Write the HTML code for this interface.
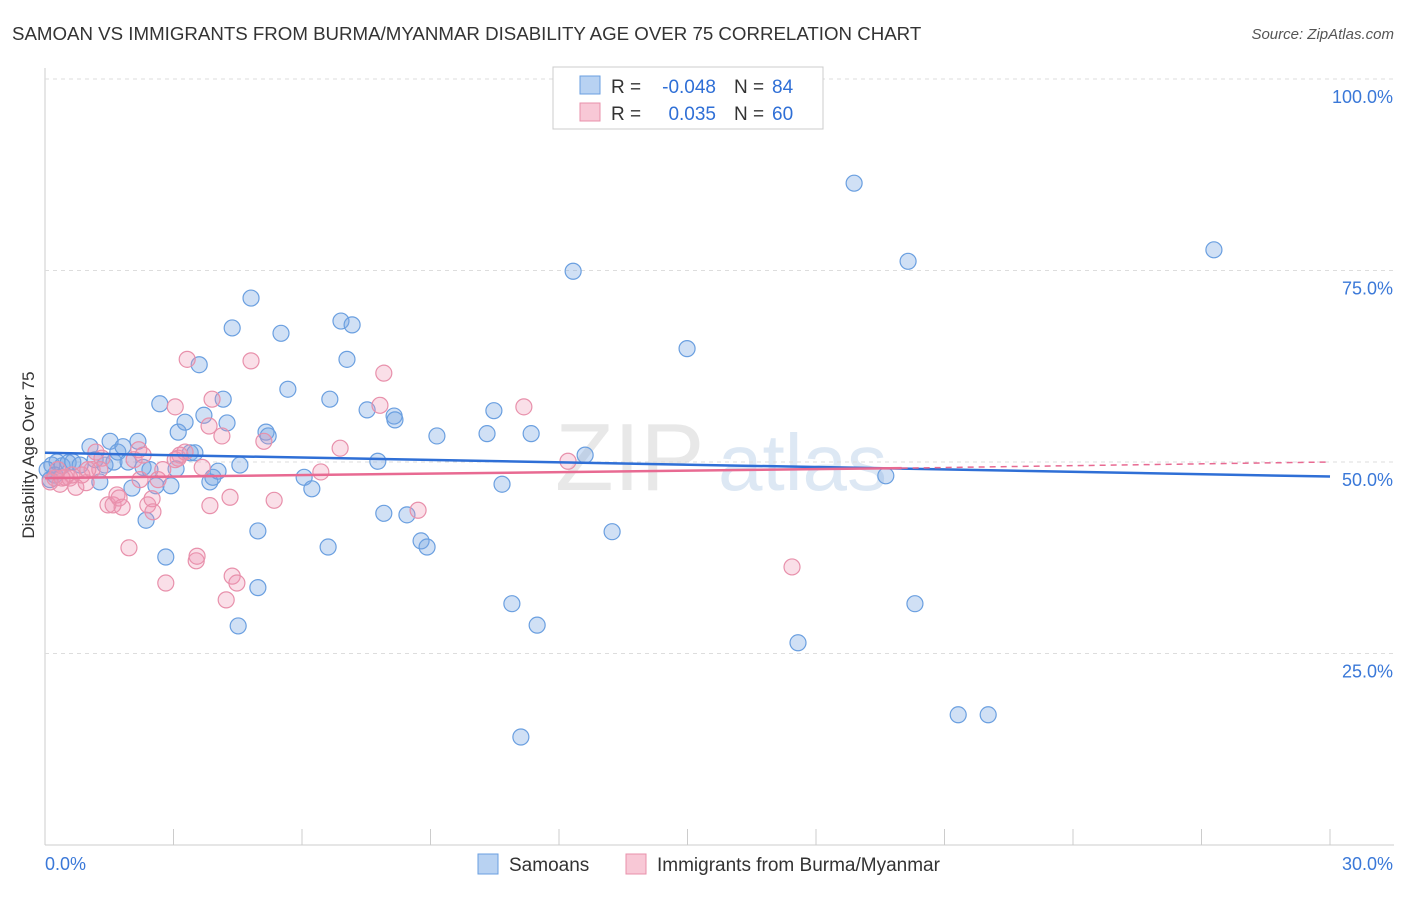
<!DOCTYPE html>
<html><head><meta charset="utf-8"><style>
body{margin:0;background:#fff;font-family:"Liberation Sans",sans-serif}
svg text{font-family:"Liberation Sans",sans-serif}
</style></head><body>
<svg id="chart" width="1406" height="892">
<text x="12" y="40" font-size="18.7" fill="#333">SAMOAN VS IMMIGRANTS FROM BURMA/MYANMAR DISABILITY AGE OVER 75 CORRELATION CHART</text>
<text x="1394" y="39" font-size="15" fill="#555" font-style="italic" text-anchor="end">Source: ZipAtlas.com</text>
<text x="555" y="490" font-size="96" fill="#e8e8e8" font-family="Liberation Serif">ZIP</text>
<text x="718" y="490" font-size="80" fill="#dde8f4">atlas</text>
<text x="34" y="455" font-size="17" fill="#333" text-anchor="middle" transform="rotate(-90 34 455)">Disability Age Over 75</text>
<g id="grid"></g><g id="marks"></g>
<g>
<rect x="553" y="67" width="270" height="62" fill="#fff" stroke="#ccc"/>
<rect x="580" y="76" width="20" height="18" fill="#b8d2f2" stroke="#6a9fe0"/>
<rect x="580" y="103" width="20" height="18" fill="#f8c8d6" stroke="#e890ab"/>
<text x="611" y="93" font-size="19" fill="#333">R =</text>
<text x="716" y="93" font-size="19" fill="#2f6fd6" text-anchor="end">-0.048</text>
<text x="734" y="93" font-size="19" fill="#333">N =</text>
<text x="772" y="93" font-size="19" fill="#2f6fd6">84</text>
<text x="611" y="120" font-size="19" fill="#333">R =</text>
<text x="716" y="120" font-size="19" fill="#2f6fd6" text-anchor="end">0.035</text>
<text x="734" y="120" font-size="19" fill="#333">N =</text>
<text x="772" y="120" font-size="19" fill="#2f6fd6">60</text>
</g>
<g>
<rect x="478" y="854" width="20" height="20" fill="#b8d2f2" stroke="#6a9fe0"/>
<text x="509" y="871" font-size="19" fill="#333">Samoans</text>
<rect x="626" y="854" width="20" height="20" fill="#f8c8d6" stroke="#e890ab"/>
<text x="657" y="871" font-size="19" fill="#333">Immigrants from Burma/Myanmar</text>
</g>
</svg>
<script>
const yTicks=[25,50,75,100];
const xTickLabels=["0.0%","30.0%"];
const bluePx=[[52,465],[57,462],[62,466],[68,463],[73,462],[80,465],[90,447],[95,460],[100,482],[105,465],[110,441],[114,462],[118,452],[123,447],[128,462],[132,488],[138,441],[143,467],[146,520],[150,470],[156,486],[160,404],[166,557],[171,486],[176,469],[178,432],[185,422],[190,453],[195,453],[199,365],[204,415],[210,482],[213,477],[218,471],[223,399],[227,423],[232,328],[240,465],[251,298],[258,531],[258,588],[238,626],[266,432],[268,436],[281,333],[288,389],[304,477],[312,489],[328,547],[330,399],[341,321],[347,359],[352,325],[367,410],[378,461],[384,513],[394,416],[395,420],[407,515],[421,541],[427,547],[437,436],[487,434],[494,411],[502,484],[512,604],[531,434],[537,625],[573,271],[585,455],[612,532],[687,349],[798,643],[854,183],[886,476],[908,261],[915,604],[958,715],[988,715],[1214,250],[521,737],[47,470],[50,480],[55,475]];
const pinkPx=[[50,482],[55,478],[60,484],[65,477],[70,478],[76,487],[82,475],[86,483],[92,470],[96,452],[102,458],[108,505],[113,505],[117,495],[119,498],[122,507],[129,548],[134,460],[139,450],[143,455],[148,505],[152,499],[153,512],[158,480],[163,470],[166,583],[175,407],[178,458],[180,455],[187,359],[196,561],[197,556],[202,467],[209,426],[210,506],[212,399],[222,436],[226,600],[230,497],[232,576],[237,583],[251,361],[264,441],[274,500],[321,472],[340,448],[380,405],[384,373],[418,510],[524,407],[568,461],[792,567],[72,475],[62,478],[100,470],[175,460],[185,452],[140,480],[88,470],[58,470]];
const samoanX=bluePx.map(p=>+((p[0]-45)*30/1285).toFixed(2));
const samoanY=bluePx.map(p=>+((845-p[1])*100/766).toFixed(1));
const burmaX=pinkPx.map(p=>+((p[0]-45)*30/1285).toFixed(2));
const burmaY=pinkPx.map(p=>+((845-p[1])*100/766).toFixed(1));
const blueTrend=[51.2,48.1];
const pinkTrend=[47.9,49.2,50.0];
const X=v=>45+v*1285/30, Y=v=>845-v*766/100;
const NS="http://www.w3.org/2000/svg";
const g=document.getElementById('grid'), m=document.getElementById('marks');
function el(t,a,p){const e=document.createElementNS(NS,t);for(const k in a)e.setAttribute(k,a[k]);p.appendChild(e);return e;}
let a=el('line',{x1:45,y1:68,x2:45,y2:845,stroke:'#ccc'},g);

a=el('line',{x1:45,y1:845,x2:1394,y2:845,stroke:'#ccc'},g);

for(let i=1;i<=10;i++){const l=el('line',{x1:X(i*3),y1:829,x2:X(i*3),y2:845,stroke:'#ccc'},g);
}
yTicks.forEach(t=>{const l=el('line',{x1:45,y1:Y(t),x2:1394,y2:Y(t),stroke:'#ddd','stroke-dasharray':'4,4'},g);

const tx=el('text',{x:1393,y:Y(t)+24,'font-size':18,fill:'#3a78d8','text-anchor':'end'},g);tx.textContent=t.toFixed(1)+'%';
});
[[0,45,'start'],[1,1393,'end']].forEach(([i,x,an])=>{const tx=el('text',{x:x,y:870,'font-size':18,fill:'#3a78d8','text-anchor':an},g);tx.textContent=xTickLabels[i];
});
samoanX.forEach((x,i)=>{const c=el('circle',{cx:X(x),cy:Y(samoanY[i]),r:8,fill:'rgba(120,165,225,0.35)',stroke:'#6a9fe0','stroke-width':1.2},m);
});
burmaX.forEach((x,i)=>{const c=el('circle',{cx:X(x),cy:Y(burmaY[i]),r:8,fill:'rgba(240,150,180,0.3)',stroke:'#e890ab','stroke-width':1.2},m);
});
let t=el('line',{x1:X(0),y1:Y(blueTrend[0]),x2:X(30),y2:Y(blueTrend[1]),stroke:'#2f6fd6','stroke-width':2.5},m);

t=el('line',{x1:X(0),y1:Y(pinkTrend[0]),x2:X(20),y2:Y(pinkTrend[1]),stroke:'#e86a92','stroke-width':2.5},m);

t=el('line',{x1:X(20),y1:Y(pinkTrend[1]),x2:X(30),y2:Y(pinkTrend[2]),stroke:'#e86a92','stroke-width':1.5,'stroke-dasharray':'6,5'},m);

</script>
</body></html>
